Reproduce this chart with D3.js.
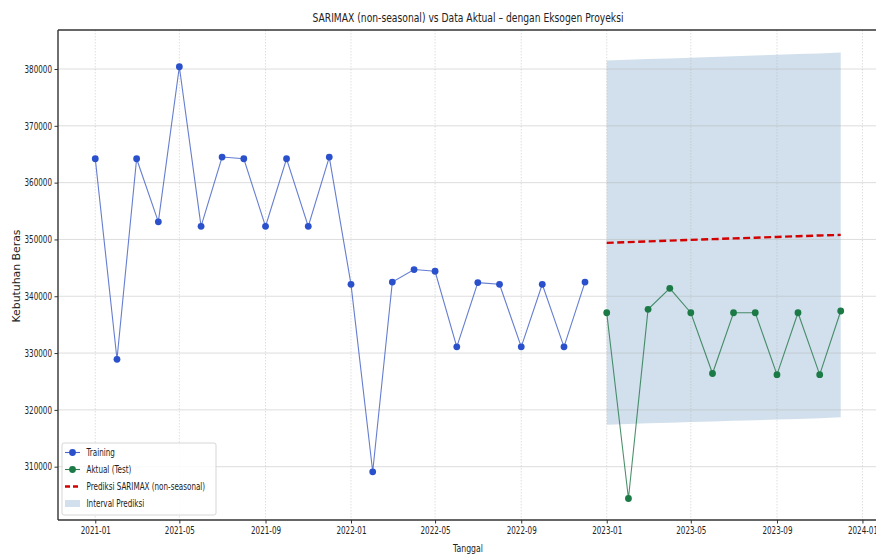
<!DOCTYPE html>
<html>
<head>
<meta charset="utf-8">
<script src="https://cdn.jsdelivr.net/npm/d3@7"></script>
<style>
  body { margin: 0; background: #fff; }
  text { font-family: "DejaVu Sans", sans-serif; fill: #222; }
</style>
</head>
<body>
<div id="chart"></div>
<script>
// training data (monthly)
var trainDates = ["2021-01","2021-02","2021-03","2021-04","2021-05","2021-06","2021-07","2021-08","2021-09","2021-10","2021-11","2021-12",
                  "2022-01","2022-02","2022-03","2022-04","2022-05","2022-06","2022-07","2022-08","2022-09","2022-10","2022-11","2022-12"];
var trainValues = [364200, 328900, 364200, 353100, 380400, 352300, 364500, 364200, 352300, 364200, 352300, 364500,
                   342100, 309100, 342500, 344700, 344400, 331100, 342400, 342100, 331100, 342100, 331100, 342500];

// test data + forecast
var testDates = ["2023-01","2023-02","2023-03","2023-04","2023-05","2023-06","2023-07","2023-08","2023-09","2023-10","2023-11","2023-12"];
var testValues = [337100, 304400, 337700, 341400, 337100, 326400, 337100, 337100, 326200, 337100, 326200, 337400];
var forecastValues = [349400, 349530, 349660, 349790, 349920, 350050, 350180, 350310, 350440, 350570, 350700, 350800];
var lowerValues = [317400, 317520, 317630, 317740, 317850, 317960, 318080, 318190, 318300, 318410, 318530, 318700];
var upperValues = [381500, 381620, 381750, 381870, 382000, 382120, 382250, 382370, 382500, 382620, 382750, 382900];

var yTicks = [310000, 320000, 330000, 340000, 350000, 360000, 370000, 380000];
var xTickDates = ["2021-01","2021-05","2021-09","2022-01","2022-05","2022-09","2023-01","2023-05","2023-09","2024-01"];

var W = 876, H = 554;
var margin = {top: 30, left: 58, right: 878, bottom: 520};
var squeeze = 0.72;

var parseM = d3.timeParse("%Y-%m");
var train = trainDates.map(function (d, i) { return {date: parseM(d), v: trainValues[i]}; });
var test = testDates.map(function (d, i) {
    return {date: parseM(d), v: testValues[i], f: forecastValues[i], lo: lowerValues[i], hi: upperValues[i]};
});

var day = 864e5;
var x = d3.scaleTime()
    .domain([new Date(parseM("2021-01").getTime() - 53.2 * day), new Date(parseM("2023-12").getTime() + 53.2 * day)])
    .range([margin.left, margin.right]);
var y = d3.scaleLinear()
    .domain([300616, 386866])
    .range([margin.bottom, margin.top]);

var svg = d3.select("#chart").append("svg")
    .attr("width", W)
    .attr("height", H);

var defs = svg.append("defs");
defs.append("clipPath").attr("id", "plotclip").append("rect")
    .attr("x", margin.left).attr("y", margin.top)
    .attr("width", margin.right - margin.left).attr("height", margin.bottom - margin.top);

var plot = svg.append("g").attr("clip-path", "url(#plotclip)");

// interval
plot.append("path")
    .datum(test)
    .attr("d", d3.area().x(function (d) { return x(d.date); }).y0(function (d) { return y(d.lo); }).y1(function (d) { return y(d.hi); }))
    .attr("fill", "steelblue")
    .attr("fill-opacity", 0.25);

// grid
plot.selectAll(".hgrid").data(yTicks).enter().append("line")
    .attr("x1", margin.left).attr("x2", margin.right)
    .attr("y1", function (d) { return y(d); }).attr("y2", function (d) { return y(d); })
    .attr("stroke", "#b0b0b0").attr("stroke-opacity", 0.55).attr("stroke-width", 0.8);
plot.selectAll(".vgrid").data(xTickDates).enter().append("line")
    .attr("x1", function (d) { return x(parseM(d)); }).attr("x2", function (d) { return x(parseM(d)); })
    .attr("y1", margin.top).attr("y2", margin.bottom)
    .attr("stroke", "#b0b0b0").attr("stroke-opacity", 0.5).attr("stroke-width", 0.8)
    .attr("stroke-dasharray", "1.5,1.5");

var line = d3.line().x(function (d) { return x(d.date); }).y(function (d) { return y(d.v); });

// training
plot.append("path").datum(train).attr("d", line)
    .attr("fill", "none").attr("stroke", "#4a66c8").attr("stroke-width", 1.1).attr("stroke-opacity", 0.85);
plot.selectAll(".tp").data(train).enter().append("circle")
    .attr("cx", function (d) { return x(d.date); }).attr("cy", function (d) { return y(d.v); })
    .attr("r", 3.4).attr("fill", "#2a50cc");

// test
plot.append("path").datum(test).attr("d", line)
    .attr("fill", "none").attr("stroke", "#2f7d52").attr("stroke-width", 1.1).attr("stroke-opacity", 0.85);
plot.selectAll(".sp").data(test).enter().append("circle")
    .attr("cx", function (d) { return x(d.date); }).attr("cy", function (d) { return y(d.v); })
    .attr("r", 3.4).attr("fill", "#1b7a45");

// forecast
plot.append("path").datum(test)
    .attr("d", d3.line().x(function (d) { return x(d.date); }).y(function (d) { return y(d.f); }))
    .attr("fill", "none").attr("stroke", "#d40000").attr("stroke-width", 2.4).attr("stroke-dasharray", "7,3.5");

// axes
var xAxis = svg.append("g")
    .attr("transform", "translate(0," + margin.bottom + ")")
    .call(d3.axisBottom(x).tickValues(xTickDates.map(parseM)).tickFormat(d3.timeFormat("%Y-%m")).tickSizeOuter(0).tickSize(3.5));
xAxis.select(".domain").remove();
xAxis.selectAll("text").attr("font-size", 10).attr("y", 7).attr("transform", "scale(" + squeeze + ",1)");

var yAxis = svg.append("g")
    .attr("transform", "translate(" + margin.left + ",0)")
    .call(d3.axisLeft(y).tickValues(yTicks).tickFormat(d3.format("d")).tickSizeOuter(0).tickSize(3.5));
yAxis.select(".domain").remove();
yAxis.selectAll("text").attr("font-size", 10).attr("x", -6 / squeeze).attr("transform", "scale(" + squeeze + ",1)");
svg.selectAll(".tick line").attr("stroke", "#333");
svg.selectAll(".tick text").style("font-family", "DejaVu Sans, sans-serif").attr("fill", "#222");

// spines
svg.append("line").attr("x1", margin.left).attr("x2", margin.left).attr("y1", margin.top).attr("y2", margin.bottom)
    .attr("stroke", "#333").attr("stroke-width", 1.4);
svg.append("line").attr("x1", margin.left).attr("x2", margin.right).attr("y1", margin.bottom).attr("y2", margin.bottom)
    .attr("stroke", "#333").attr("stroke-width", 1.4);
svg.append("line").attr("x1", margin.left).attr("x2", margin.right).attr("y1", margin.top).attr("y2", margin.top)
    .attr("stroke", "#333").attr("stroke-width", 1.4);

// title and labels
svg.append("text")
    .attr("x", 468).attr("y", 22)
    .attr("text-anchor", "middle")
    .attr("font-size", 12.5)
    .attr("textLength", 311).attr("lengthAdjust", "spacingAndGlyphs")
    .text("SARIMAX (non-seasonal) vs Data Aktual – dengan Eksogen Proyeksi");

svg.append("text")
    .attr("transform", "translate(20,276) rotate(-90)")
    .attr("text-anchor", "middle")
    .attr("font-size", 10.5)
    .attr("textLength", 93).attr("lengthAdjust", "spacingAndGlyphs")
    .text("Kebutuhan Beras");

svg.append("text")
    .attr("x", 468).attr("y", 552)
    .attr("text-anchor", "middle")
    .attr("font-size", 10.5)
    .attr("textLength", 30).attr("lengthAdjust", "spacingAndGlyphs")
    .text("Tanggal");

// legend
var legendItems = [
    {label: "Training", type: "marker", color: "#2a50cc", line: "#4a66c8"},
    {label: "Aktual (Test)", type: "marker", color: "#1b7a45", line: "#2f7d52"},
    {label: "Prediksi SARIMAX (non-seasonal)", type: "dash", color: "#d40000"},
    {label: "Interval Prediksi", type: "patch", color: "steelblue"}
];
var lg = svg.append("g");
lg.append("rect")
    .attr("x", 62).attr("y", 443).attr("width", 154).attr("height", 72).attr("rx", 2)
    .attr("fill", "#fff").attr("fill-opacity", 0.85).attr("stroke", "#cccccc").attr("stroke-width", 0.8);
var rows = lg.selectAll(".row").data(legendItems).enter().append("g")
    .attr("transform", function (d, i) { return "translate(0," + (452.5 + i * 17) + ")"; });
rows.each(function (d) {
    var g = d3.select(this);
    if (d.type === "marker") {
        g.append("line").attr("x1", 65).attr("x2", 80).attr("stroke", d.line).attr("stroke-width", 1.1);
        g.append("circle").attr("cx", 72.5).attr("r", 3.4).attr("fill", d.color);
    } else if (d.type === "dash") {
        g.append("line").attr("x1", 65).attr("x2", 80).attr("stroke", d.color).attr("stroke-width", 2.4).attr("stroke-dasharray", "5,3");
    } else {
        g.append("rect").attr("x", 65).attr("y", -3.5).attr("width", 15).attr("height", 7)
            .attr("fill", d.color).attr("fill-opacity", 0.25);
    }
    g.append("text")
        .attr("x", 86.5 / squeeze).attr("y", 3.5)
        .attr("font-size", 10)
        .attr("transform", "scale(" + squeeze + ",1)")
        .text(d.label);
});
</script>
</body>
</html>
